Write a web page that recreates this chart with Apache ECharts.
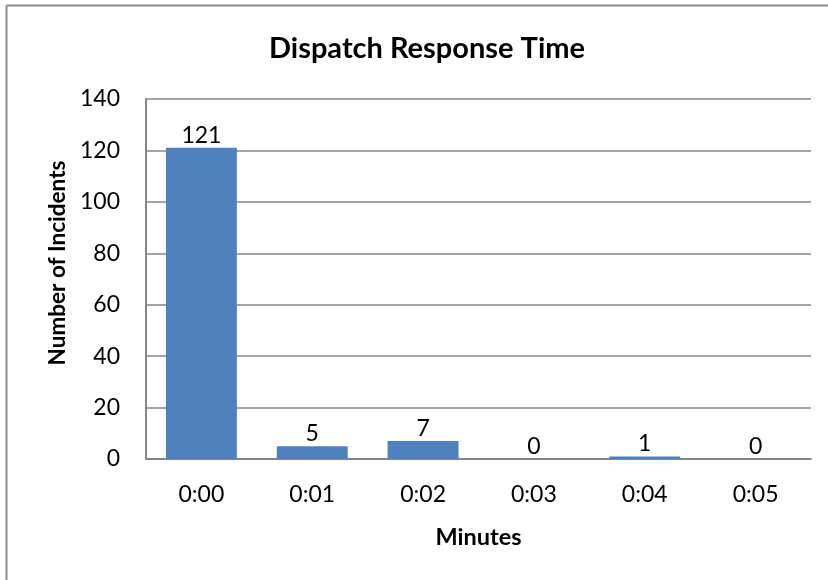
<!DOCTYPE html>
<html><head><meta charset="utf-8">
<script src="https://cdn.jsdelivr.net/npm/echarts@6/dist/echarts.min.js"></script>
<style>html,body{margin:0;padding:0;background:#fff}#c{width:828px;height:580px}</style>
</head><body><div id="c"></div>
<script>
const categories = ['0:00','0:01','0:02','0:03','0:04','0:05'];
const incidents = [121, 5, 7, 0, 1, 0];
const yTicks = {min:0, max:140, interval:20};
const FONT = 'Lato, "Open Sans", sans-serif';
const chart = echarts.init(document.getElementById('c'), null, {renderer:'canvas'});
chart.setOption({
  animation:false,
  backgroundColor:'#fff',
  title:{text:'Dispatch Response Time', left:422, textAlign:'center', top:29, textStyle:{fontFamily:FONT, fontSize:29, fontWeight:'bold', color:'#000'}},
  graphic:[
    {type:'line', shape:{x1:6.5,y1:5.5,x2:828,y2:5.5}, style:{stroke:'#8c8c8c', lineWidth:2}, silent:true},
    {type:'line', shape:{x1:6.5,y1:5.5,x2:6.5,y2:580}, style:{stroke:'#8c8c8c', lineWidth:2}, silent:true}
  ],
  grid:{left:146, right:17, top:99, bottom:121},
  xAxis:{type:'category', data:categories, name:'Minutes', nameLocation:'middle', nameGap:66,
    nameTextStyle:{fontFamily:FONT, fontSize:23.5, fontWeight:'bold', color:'#000'},
    axisLine:{lineStyle:{color:'#868686', width:2}}, axisTick:{show:false},
    axisLabel:{fontFamily:FONT, fontSize:23, color:'#000', margin:24}},
  yAxis:{type:'value', min:yTicks.min, max:yTicks.max, interval:yTicks.interval, name:'Number of Incidents', nameLocation:'middle', nameGap:75, nameRotate:90,
    nameTextStyle:{fontFamily:FONT, fontSize:22.5, fontWeight:'bold', color:'#000', padding:[0,0,0,32]},
    axisLine:{show:true, lineStyle:{color:'#868686', width:2}}, axisTick:{show:false},
    splitLine:{lineStyle:{color:'#868686', width:1.5}},
    axisLabel:{fontFamily:FONT, fontSize:23, color:'#000', margin:26}},
  series:[{type:'bar', data:incidents, barWidth:'64%', itemStyle:{color:'#4f81bd'},
    label:{show:true, position:'top', distance:1, fontFamily:FONT, fontSize:23, color:'#000'}}]
});
</script></body></html>
